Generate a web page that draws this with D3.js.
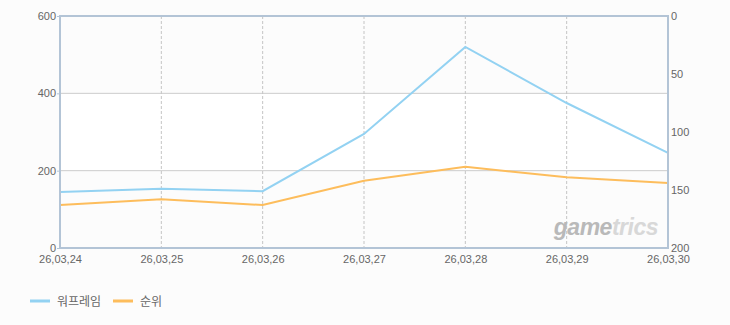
<!DOCTYPE html>
<html>
<head>
<meta charset="utf-8">
<script src="https://cdn.jsdelivr.net/npm/d3@7"></script>
<style>
  body { margin: 0; background: #fcfcfc; }
  svg { display: block; font-family: "DejaVu Sans", sans-serif; }
</style>
</head>
<body>
<div id="chart"></div>
<script>
const dates = ["26,03,24", "26,03,25", "26,03,26", "26,03,27", "26,03,28", "26,03,29", "26,03,30"];
const warframe = [145, 153, 147, 295, 520, 375, 246];
const rank = [163, 158, 163, 142, 130, 139, 144];
const leftTicks = [0, 200, 400, 600];
const rightTicks = [0, 50, 100, 150, 200];
const seriesNames = ["워프레임", "순위"];
const colors = ["#93d2f2", "#fdbd5c"];

const width = 730, height = 325;
const margin = { top: 16, right: 62, bottom: 77, left: 60 };
const w = width - margin.left - margin.right;
const h = height - margin.top - margin.bottom;

const svg = d3.select("#chart").append("svg")
  .attr("width", width).attr("height", height);

const g = svg.append("g").attr("transform", `translate(${margin.left},${margin.top})`);

const x = d3.scalePoint().domain(dates).range([0, w]);
const yL = d3.scaleLinear().domain([0, 600]).range([h, 0]);
const yR = d3.scaleLinear().domain([0, 200]).range([0, h]);

// plot background bands
g.append("rect").attr("width", w).attr("height", h).attr("fill", "#fcfcfc");
g.append("rect").attr("y", yL(400)).attr("width", w).attr("height", yL(200) - yL(400)).attr("fill", "#ffffff");

// horizontal grid
g.selectAll("line.hgrid").data([200, 400]).enter().append("line")
  .attr("class", "hgrid")
  .attr("x1", 0).attr("x2", w)
  .attr("y1", d => yL(d)).attr("y2", d => yL(d))
  .attr("stroke", "#cccccc");

// vertical dashed grid
g.selectAll("line.vgrid").data(dates.slice(1, -1)).enter().append("line")
  .attr("class", "vgrid")
  .attr("x1", d => x(d)).attr("x2", d => x(d))
  .attr("y1", 0).attr("y2", h)
  .attr("stroke", "#c4c4c4")
  .attr("stroke-dasharray", "3,2");

// watermark
const wm = g.append("text")
  .attr("x", w - 10).attr("y", h - 13)
  .attr("text-anchor", "end")
  .attr("font-family", "Liberation Sans, sans-serif")
  .attr("font-size", 23).attr("font-weight", "bold").attr("font-style", "italic")
  .attr("letter-spacing", -0.5);
wm.append("tspan").attr("fill", "#b9b9b9").text("game");
wm.append("tspan").attr("fill", "#d8d8d8").text("trics");

// lines
const lineL = d3.line().x((d, i) => x(dates[i])).y(d => yL(d));
const lineR = d3.line().x((d, i) => x(dates[i])).y(d => yR(d));

g.append("path").datum(rank).attr("d", lineR)
  .attr("fill", "none").attr("stroke", colors[1]).attr("stroke-width", 2);
g.append("path").datum(warframe).attr("d", lineL)
  .attr("fill", "none").attr("stroke", colors[0]).attr("stroke-width", 2);

// frame
g.append("rect").attr("width", w).attr("height", h)
  .attr("fill", "none").attr("stroke", "#b3c4d6").attr("stroke-width", 2);

// axes
const axisL = g.append("g").call(d3.axisLeft(yL).tickValues(leftTicks).tickSize(3).tickPadding(1));
const axisR = g.append("g").attr("transform", `translate(${w},0)`)
  .call(d3.axisRight(yR).tickValues(rightTicks).tickSize(0).tickPadding(3));
const axisB = g.append("g").attr("transform", `translate(0,${h})`)
  .call(d3.axisBottom(x).tickSize(0).tickPadding(7));

[axisL, axisR, axisB].forEach(a => {
  a.select(".domain").remove();
  a.selectAll("line").attr("stroke", "#b3c4d6");
  a.selectAll("text").attr("fill", "#666").attr("font-size", 11);
});

// legend
const legend = svg.append("g").attr("transform", "translate(30,301)");
const items = legend.selectAll("g").data(seriesNames).enter().append("g")
  .attr("transform", (d, i) => `translate(${i * 83},0)`);
items.append("line").attr("x1", 0).attr("x2", 20).attr("y1", 0).attr("y2", 0)
  .attr("stroke", (d, i) => colors[i]).attr("stroke-width", 3);
items.append("text").attr("x", 27).attr("y", 4.5)
  .attr("font-size", 12).attr("fill", "#666")
  .attr("font-family", "Noto Sans CJK KR, sans-serif")
  .text(d => d);
</script>
</body>
</html>
